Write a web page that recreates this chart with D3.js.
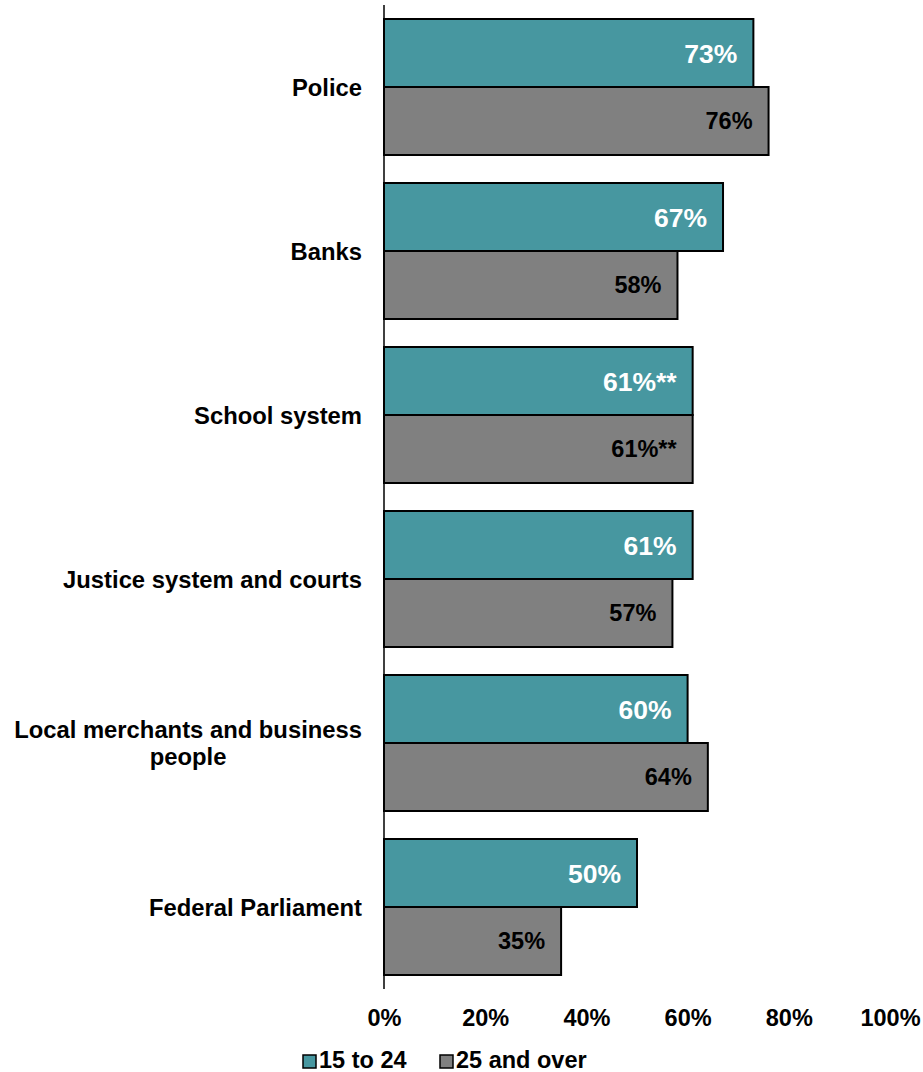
<!DOCTYPE html>
<html>
<head>
<meta charset="utf-8">
<script src="https://cdn.jsdelivr.net/npm/d3@7"></script>
<style>
  html, body { margin: 0; padding: 0; background: #ffffff; }
  svg { display: block; font-family: "Liberation Sans", Arial, sans-serif; font-weight: bold; }
</style>
</head>
<body>
<svg id="chart" width="923" height="1072"></svg>
<script>
// Confidence in institutions, by age group
const categories = [
  ["Police"],
  ["Banks"],
  ["School system"],
  ["Justice system and courts"],
  ["Local merchants and business", "people"],
  ["Federal Parliament"]
];
const youngValues = [73, 67, 61, 61, 60, 50];
const olderValues = [76, 58, 61, 57, 64, 35];
const youngLabels = ["73%", "67%", "61%**", "61%", "60%", "50%"];
const olderLabels = ["76%", "58%", "61%**", "57%", "64%", "35%"];
const seriesNames = ["15 to 24", "25 and over"];
const tickValues = [0, 20, 40, 60, 80, 100];

const colors = ["#4797a0", "#808080"];

const svg = d3.select("#chart");
const plot = { left: 384, right: 890, top: 5, bottom: 989 };

const x = d3.scaleLinear().domain([0, 100]).range([plot.left, plot.right]);
const y = d3.scaleBand().domain(d3.range(categories.length)).range([plot.top, plot.bottom]).paddingInner(28 / 164).paddingOuter(14 / 164);
const barH = y.bandwidth() / 2;

const rows = categories.map((c, i) => ({
  i, lines: c,
  vals: [youngValues[i], olderValues[i]],
  labs: [youngLabels[i], olderLabels[i]]
}));

const g = svg.append("g");

// bars with value labels inside their ends
rows.forEach(r => {
  r.vals.forEach((v, s) => {
    const y0 = y(r.i) + s * barH;
    g.append("rect")
      .attr("x", x(0))
      .attr("y", y0)
      .attr("width", x(v) - x(0))
      .attr("height", barH)
      .attr("fill", colors[s])
      .attr("stroke", "#000")
      .attr("stroke-width", 2);
    g.append("text")
      .attr("x", x(v) - 16)
      .attr("y", y0 + barH / 2)
      .attr("dy", "0.36em")
      .attr("text-anchor", "end")
      .attr("font-size", s === 0 ? 26.5 : 23.5)
      .attr("fill", s === 0 ? "#ffffff" : "#000000")
      .text(r.labs[s]);
  });
});

// vertical axis line
g.append("line")
  .attr("x1", x(0)).attr("x2", x(0))
  .attr("y1", plot.top).attr("y2", plot.bottom)
  .attr("stroke", "#000").attr("stroke-width", 1.5);

// category labels (multi-line labels centred within a right-aligned block)
const lineH = 27;
rows.forEach(r => {
  const cy = y(r.i) + y.bandwidth() / 2;
  const t = g.append("text")
    .attr("font-size", 23.8)
    .attr("fill", "#000");
  const n = r.lines.length;
  const spans = r.lines.map((ln, k) =>
    t.append("tspan")
      .attr("y", cy + (k - (n - 1) / 2) * lineH)
      .attr("dy", "0.36em")
      .text(ln));
  const widths = spans.map(sp => sp.node().getComputedTextLength());
  const maxW = d3.max(widths);
  const rightEdge = x(0) - 22;
  const mid = rightEdge - maxW / 2;
  spans.forEach(sp => sp.attr("x", mid).attr("text-anchor", "middle"));
});

// x axis tick labels
const axis = d3.axisBottom(x).tickValues(tickValues).tickFormat(d => d + "%").tickSize(0).tickPadding(0);
const ax = svg.append("g").attr("transform", `translate(0, ${1009})`).call(axis);
ax.select(".domain").remove();
ax.selectAll("text")
  .attr("font-size", 23.5)
  .attr("font-family", "Liberation Sans, Arial, sans-serif")
  .attr("font-weight", "bold")
  .attr("fill", "#000")
  .attr("dy", "0.71em");

// legend
const legendX = [303, 440];
seriesNames.forEach((name, s) => {
  const lg = svg.append("g").attr("transform", `translate(${legendX[s]}, 1055)`);
  lg.append("rect")
    .attr("width", 13).attr("height", 13)
    .attr("fill", colors[s])
    .attr("stroke", "#000").attr("stroke-width", 1.5);
  lg.append("text")
    .attr("x", 16).attr("y", 13)
    .attr("font-size", 23.5)
    .attr("fill", "#000")
    .text(name);
});
</script>
</body>
</html>
